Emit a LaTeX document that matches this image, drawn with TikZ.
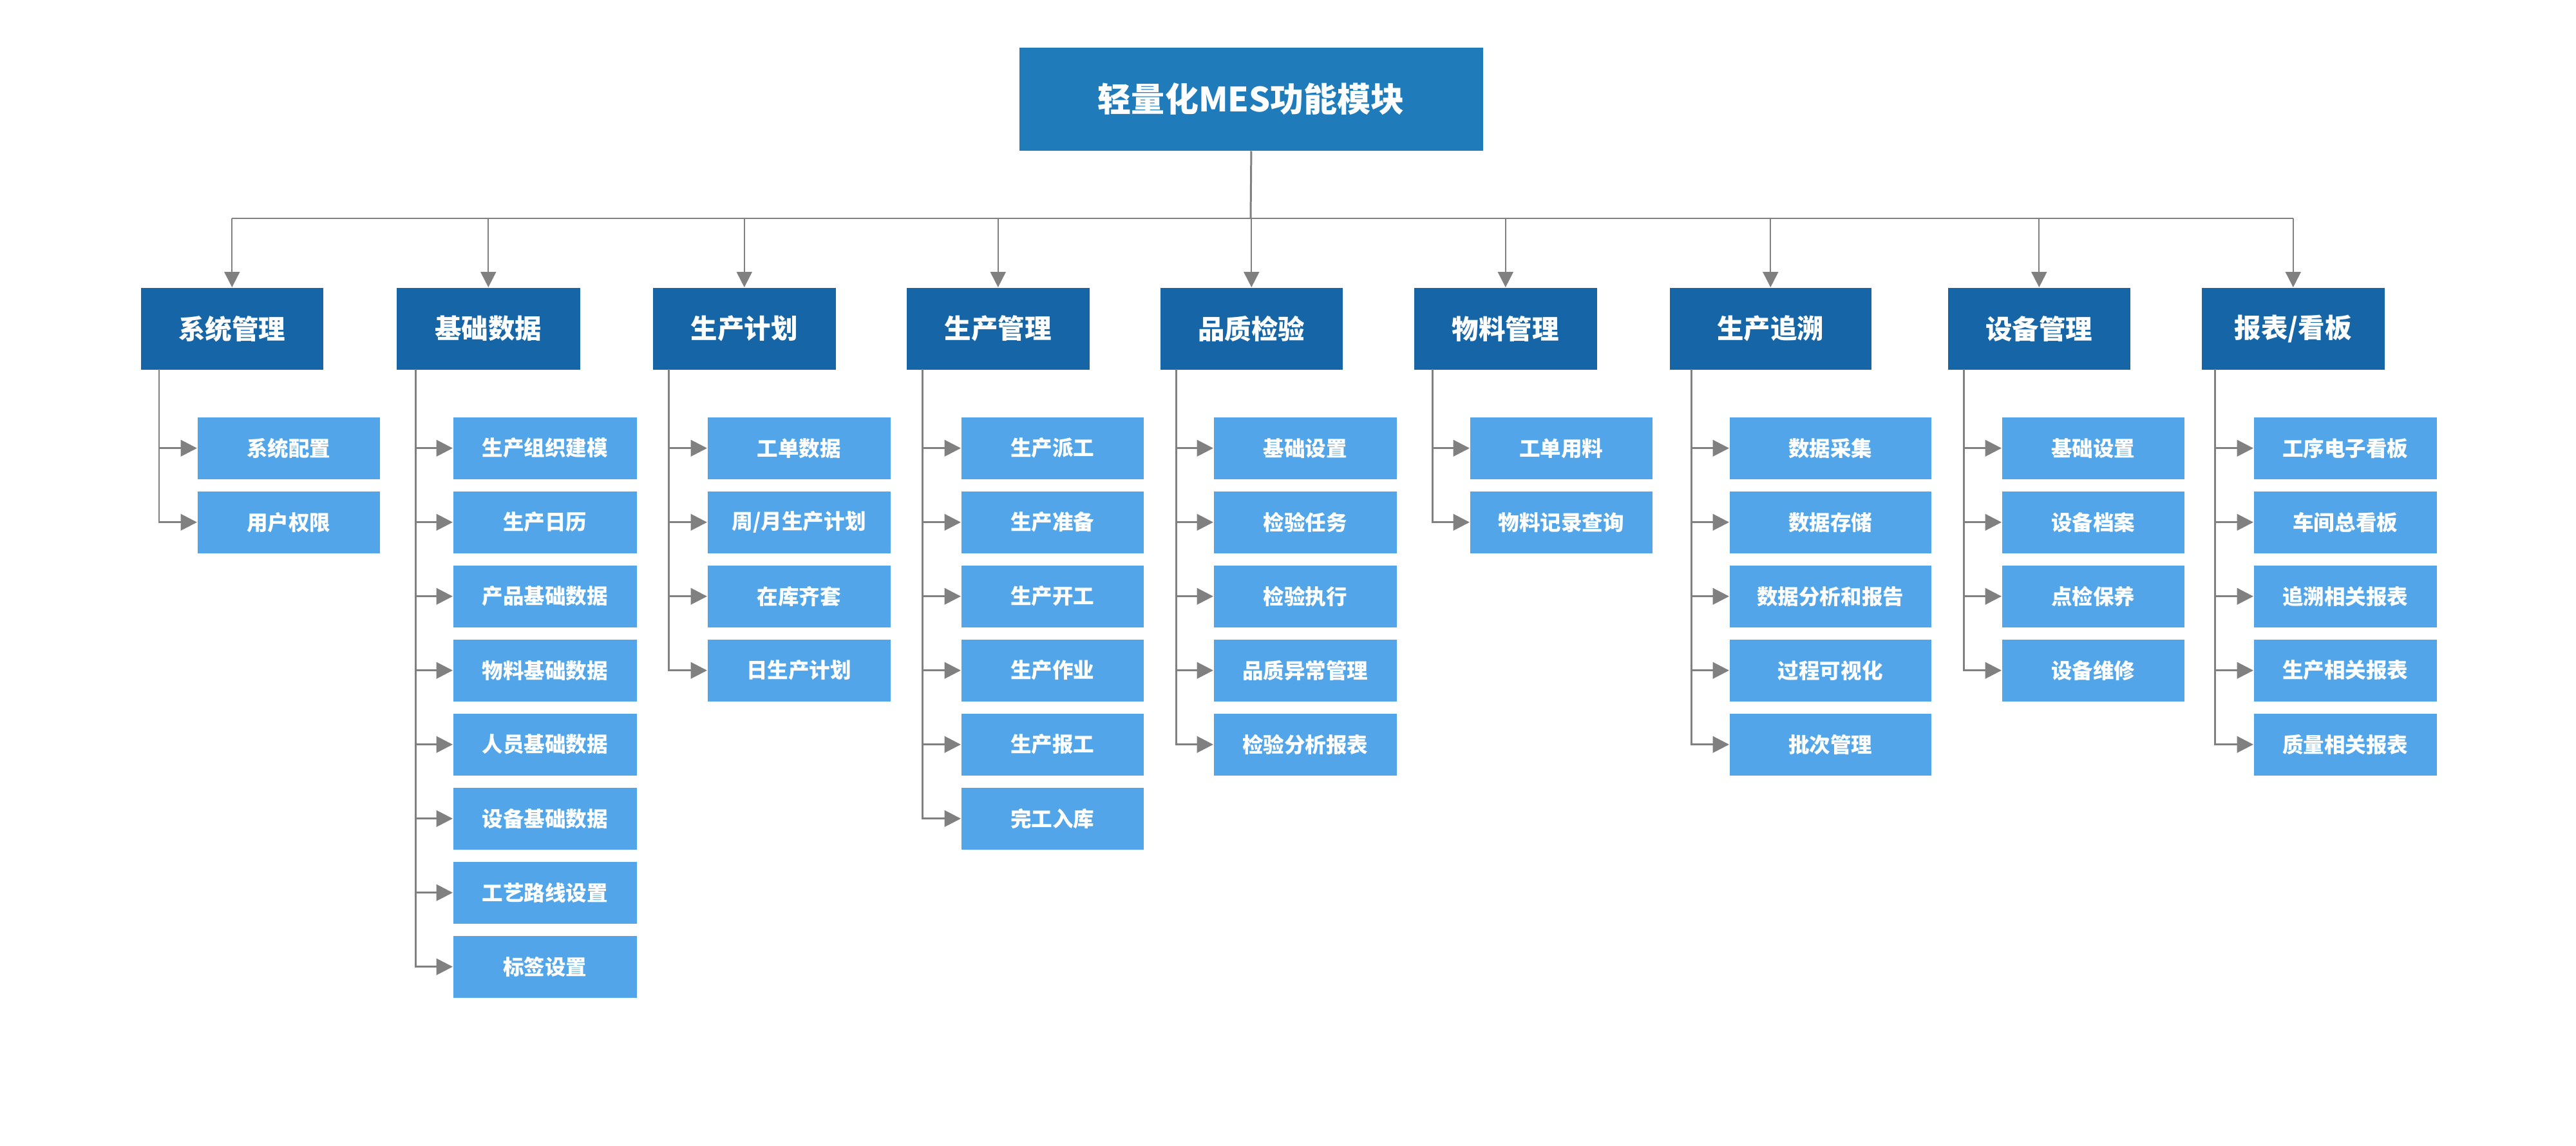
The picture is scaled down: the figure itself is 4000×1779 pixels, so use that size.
\documentclass[tikz,border=0pt]{standalone}
\usepackage{fontspec}
\setmainfont{Noto Sans CJK SC}
\usetikzlibrary{arrows.meta}
\definecolor{topc}{RGB}{31,123,186}
\definecolor{catc}{RGB}{22,101,167}
\definecolor{subc}{RGB}{82,165,232}
\definecolor{linec}{RGB}{128,128,128}
\tikzset{
  topbox/.style={fill=topc, text=white, font=\bfseries\fontsize{14.8}{18}\selectfont, minimum width=7.2cm, minimum height=1.6cm, inner sep=0pt, anchor=north west},
  catbox/.style={fill=catc, text=white, font=\bfseries\fontsize{11.8}{14}\selectfont, minimum height=1.27cm, inner sep=0pt, anchor=north west},
  subbox/.style={fill=subc, text=white, font=\bfseries\fontsize{9.25}{11}\selectfont, minimum height=0.96cm, inner sep=0pt, anchor=north west},
  conn/.style={draw=linec, line width=0.85pt},
  drop/.style={draw=linec, line width=0.6pt, -{Triangle[length=6.8pt,width=6.8pt]}},
  arr/.style={conn, -{Triangle[length=7.2pt,width=7.2pt]}},
}
\newcommand\mysub[6]{%
  \node[subbox, minimum width=#5*0.01cm] (#1) at (#3,#4) {#6};
  \draw[arr] (#2) |- (#1.west);}
\begin{document}
\begin{tikzpicture}[x=0.01cm, y=-0.01cm]
\useasboundingbox (0,0) rectangle (4000,1779);

% top
\node[topbox] (top) at (1582,73) {轻量化MES功能模块};
\coordinate (bus) at (1942,339);

% categories
\node[catbox, minimum width=2.83cm] (c1) at (218,446) {系统管理};
\node[catbox, minimum width=2.85cm] (c2) at (615,446) {基础数据};
\node[catbox, minimum width=2.84cm] (c3) at (1013,446) {生产计划};
\node[catbox, minimum width=2.84cm] (c4) at (1407,446) {生产管理};
\node[catbox, minimum width=2.83cm] (c5) at (1801,446) {品质检验};
\node[catbox, minimum width=2.84cm] (c6) at (2195,446) {物料管理};
\node[catbox, minimum width=3.13cm] (c7) at (2592,446) {生产追溯};
\node[catbox, minimum width=2.83cm] (c8) at (3024,446) {设备管理};
\node[catbox, minimum width=2.84cm] (c9) at (3418,446) {报表/看板};

\draw[conn] (top.south) -- (bus);
\draw[conn] (c1.north |- bus) -- (c9.north |- bus);
\foreach \c in {c1,c2,c3,c4,c5,c6,c7,c8,c9}
  \draw[drop] (\c.north |- bus) -- (\c.north);

% spines
\coordinate (p1) at (247,573);
\coordinate (p2) at (645,573);
\coordinate (p3) at (1038,573);
\coordinate (p4) at (1432,573);
\coordinate (p5) at (1826,573);
\coordinate (p6) at (2224,573);
\coordinate (p7) at (2626,573);
\coordinate (p8) at (3049,573);
\coordinate (p9) at (3439,573);

% column 1
\mysub{a1}{p1}{306}{647}{283}{系统配置}
\mysub{a2}{p1}{306}{762}{283}{用户权限}
% column 2
\mysub{b1}{p2}{703}{647}{285}{生产组织建模}
\mysub{b2}{p2}{703}{762}{285}{生产日历}
\mysub{b3}{p2}{703}{877}{285}{产品基础数据}
\mysub{b4}{p2}{703}{992}{285}{物料基础数据}
\mysub{b5}{p2}{703}{1107}{285}{人员基础数据}
\mysub{b6}{p2}{703}{1222}{285}{设备基础数据}
\mysub{b7}{p2}{703}{1337}{285}{工艺路线设置}
\mysub{b8}{p2}{703}{1452}{285}{标签设置}
% column 3
\mysub{d1}{p3}{1098}{647}{284}{工单数据}
\mysub{d2}{p3}{1098}{762}{284}{周/月生产计划}
\mysub{d3}{p3}{1098}{877}{284}{在库齐套}
\mysub{d4}{p3}{1098}{992}{284}{日生产计划}
% column 4
\mysub{e1}{p4}{1492}{647}{283}{生产派工}
\mysub{e2}{p4}{1492}{762}{283}{生产准备}
\mysub{e3}{p4}{1492}{877}{283}{生产开工}
\mysub{e4}{p4}{1492}{992}{283}{生产作业}
\mysub{e5}{p4}{1492}{1107}{283}{生产报工}
\mysub{e6}{p4}{1492}{1222}{283}{完工入库}
% column 5
\mysub{f1}{p5}{1884}{647}{284}{基础设置}
\mysub{f2}{p5}{1884}{762}{284}{检验任务}
\mysub{f3}{p5}{1884}{877}{284}{检验执行}
\mysub{f4}{p5}{1884}{992}{284}{品质异常管理}
\mysub{f5}{p5}{1884}{1107}{284}{检验分析报表}
% column 6
\mysub{g1}{p6}{2282}{647}{283}{工单用料}
\mysub{g2}{p6}{2282}{762}{283}{物料记录查询}
% column 7
\mysub{h1}{p7}{2685}{647}{313}{数据采集}
\mysub{h2}{p7}{2685}{762}{313}{数据存储}
\mysub{h3}{p7}{2685}{877}{313}{数据分析和报告}
\mysub{h4}{p7}{2685}{992}{313}{过程可视化}
\mysub{h5}{p7}{2685}{1107}{313}{批次管理}
% column 8
\mysub{k1}{p8}{3108}{647}{283}{基础设置}
\mysub{k2}{p8}{3108}{762}{283}{设备档案}
\mysub{k3}{p8}{3108}{877}{283}{点检保养}
\mysub{k4}{p8}{3108}{992}{283}{设备维修}
% column 9
\mysub{m1}{p9}{3499}{647}{284}{工序电子看板}
\mysub{m2}{p9}{3499}{762}{284}{车间总看板}
\mysub{m3}{p9}{3499}{877}{284}{追溯相关报表}
\mysub{m4}{p9}{3499}{992}{284}{生产相关报表}
\mysub{m5}{p9}{3499}{1107}{284}{质量相关报表}
\end{tikzpicture}
\end{document}
